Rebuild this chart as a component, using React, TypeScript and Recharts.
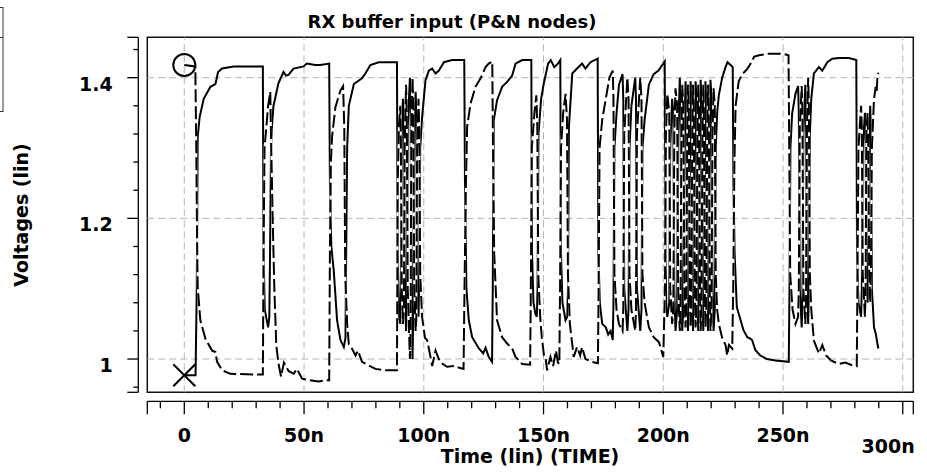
import { LineChart, Line, XAxis, YAxis, ReferenceLine, ReferenceArea } from "recharts"

// P node (solid): [time ns, volts]
const pNode: [number, number][] = [
  [0, 0.977], [4.7, 0.977], [5.2, 1.10], [5.6, 1.316], [6.4, 1.344], [8.1, 1.370], [10.9, 1.387], [13.0, 1.391],
  [14.1, 1.408], [15.8, 1.413], [20.6, 1.416], [32.8, 1.416], [33.1, 1.15], [33.6, 1.07], [35.0, 1.045], [35.5, 1.06],
  [35.8, 1.15], [36.2, 1.30], [36.5, 1.326], [37.2, 1.359], [39.3, 1.392], [41.4, 1.408], [42.5, 1.403], [43.5, 1.404],
  [45.6, 1.413], [49.8, 1.416], [51.1, 1.420], [54.7, 1.418], [56.7, 1.418], [60.5, 1.420], [60.8, 1.25], [61.4, 1.16],
  [62.4, 1.126], [63.8, 1.055], [65.2, 1.027], [66.6, 1.017], [67.3, 1.03], [67.6, 1.15], [68.0, 1.30], [68.7, 1.36],
  [70.8, 1.391], [74.2, 1.399], [75.6, 1.406], [77.7, 1.418], [81.2, 1.422], [88.8, 1.422], [89.1, 1.15], [89.6, 1.06],
  [90.2, 1.05], [90.4, 1.10], [90.8, 1.32], [91.3, 1.37], [91.7, 1.35], [92.0, 1.12], [92.6, 1.04], [92.9, 1.10],
  [93.3, 1.33], [94.2, 1.40], [94.5, 1.36], [94.8, 1.10], [95.3, 1.00], [95.6, 1.06], [96.0, 1.32], [96.6, 1.38],
  [96.9, 1.35], [97.2, 1.12], [97.8, 1.06], [98.1, 1.12], [98.5, 1.30], [99.3, 1.344], [100.7, 1.396], [102.1, 1.410],
  [103.5, 1.413], [104.9, 1.406], [106.3, 1.410], [108.4, 1.422], [111.8, 1.425], [116.9, 1.425], [117.2, 1.25], [117.8, 1.10],
  [118.8, 1.055], [120.2, 1.031], [123.0, 1.015], [124.8, 1.008], [125.8, 1.016], [127.1, 1.003], [128.5, 0.996], [128.8, 1.10],
  [129.2, 1.339], [130.6, 1.368], [132.7, 1.387], [134.8, 1.394], [136.9, 1.403], [138.3, 1.420], [141.1, 1.425], [144.9, 1.425],
  [145.2, 1.15], [145.8, 1.08], [146.6, 1.064], [147.2, 1.06], [147.5, 1.10], [147.9, 1.32], [149.0, 1.37], [150.0, 1.39],
  [151.9, 1.42], [153.0, 1.425], [154.5, 1.415], [156.0, 1.42], [157.0, 1.425], [157.3, 1.15], [157.9, 1.08], [159.2, 1.055],
  [159.9, 1.06], [160.2, 1.10], [160.6, 1.33], [162.0, 1.406], [164.0, 1.413], [166.1, 1.420], [167.5, 1.413], [169.6, 1.422],
  [172.6, 1.427], [172.9, 1.15], [173.5, 1.08], [174.5, 1.05], [176.0, 1.045], [177.0, 1.035], [178.0, 1.04], [178.9, 1.027],
  [179.2, 1.08], [179.6, 1.30], [180.5, 1.35], [181.5, 1.39], [183.0, 1.405], [183.3, 1.37], [183.7, 1.10], [185.0, 1.04],
  [185.5, 1.07], [185.9, 1.30], [186.7, 1.36], [188.3, 1.40], [188.6, 1.37], [189.0, 1.10], [190.4, 1.04], [190.9, 1.07],
  [191.3, 1.30], [192.2, 1.34], [194.0, 1.39], [196.0, 1.405], [198.0, 1.41], [200.6, 1.423], [200.9, 1.15], [201.3, 1.07],
  [201.7, 1.06], [202.5, 1.08], [202.9, 1.30], [203.7, 1.37], [204.2, 1.35], [204.6, 1.10], [205.1, 1.04], [205.8, 1.07],
  [206.2, 1.32], [206.9, 1.40], [207.2, 1.37], [207.6, 1.10], [207.9, 1.04], [208.4, 1.07], [208.8, 1.32], [209.3, 1.395],
  [209.6, 1.37], [210.0, 1.10], [210.3, 1.04], [210.65, 1.07], [211.05, 1.32], [211.4, 1.395], [211.7, 1.37], [212.1, 1.10],
  [212.4, 1.04], [212.75, 1.07], [213.15, 1.32], [213.5, 1.395], [213.85, 1.37], [214.25, 1.10], [214.6, 1.04], [214.9, 1.07],
  [215.3, 1.32], [215.6, 1.397], [215.95, 1.37], [216.35, 1.10], [216.7, 1.04], [216.95, 1.07], [217.35, 1.32], [217.6, 1.395],
  [217.95, 1.37], [218.35, 1.10], [218.7, 1.04], [219.0, 1.07], [219.4, 1.32], [219.7, 1.397], [220.15, 1.37], [220.55, 1.10],
  [221.0, 1.04], [221.5, 1.07], [221.9, 1.30], [222.5, 1.35], [223.2, 1.375], [224.6, 1.400], [226.0, 1.415], [226.8, 1.422],
  [228.1, 1.418], [229.0, 1.415], [229.3, 1.25], [229.8, 1.15], [230.7, 1.074], [233.5, 1.041], [235.1, 1.031], [236.3, 1.029],
  [237.1, 1.027], [238.4, 1.013], [240.5, 1.005], [243.3, 1.000], [246.8, 0.998], [252.4, 0.996], [252.7, 1.10], [253.1, 1.30],
  [253.8, 1.349], [255.2, 1.377], [256.3, 1.388], [256.6, 1.35], [257.0, 1.10], [257.8, 1.045], [258.1, 1.08], [258.5, 1.32],
  [259.3, 1.39], [259.6, 1.36], [260.0, 1.10], [260.5, 1.05], [260.8, 1.10], [261.2, 1.32], [261.8, 1.37], [262.9, 1.406],
  [265.0, 1.415], [266.4, 1.410], [268.5, 1.422], [270.6, 1.427], [273.3, 1.428], [277.5, 1.428], [280.6, 1.425], [280.9, 1.15],
  [281.5, 1.08], [282.6, 1.06], [282.9, 1.10], [283.3, 1.30], [284.2, 1.35], [284.5, 1.32], [284.8, 1.10], [285.3, 1.08],
  [285.6, 1.12], [286.0, 1.30], [286.4, 1.36], [286.7, 1.32], [287.1, 1.10], [288.0, 1.045], [288.8, 1.035], [289.4, 1.022],
  [289.8, 1.015],
]

// N node (dashed): [time ns, volts]
const nNode: [number, number][] = [
  [0, 1.418], [4.6, 1.416], [5.0, 1.30], [5.4, 1.15], [5.6, 1.102], [6.7, 1.055], [8.8, 1.029], [11.6, 1.012],
  [13.0, 1.010], [13.7, 0.996], [15.8, 0.984], [19.2, 0.979], [30.4, 0.978], [32.8, 0.978], [33.1, 1.15], [33.5, 1.30],
  [35.0, 1.36], [35.9, 1.380], [36.3, 1.30], [36.9, 1.20], [37.6, 1.10], [38.4, 1.02], [39.3, 0.994], [40.4, 0.975],
  [41.6, 0.995], [42.4, 0.990], [43.5, 0.983], [45.7, 0.979], [47.0, 0.986], [49.2, 0.972], [52.0, 0.970], [56.1, 0.968],
  [59.6, 0.970], [60.5, 0.970], [60.8, 1.15], [61.2, 1.28], [61.7, 1.316], [63.1, 1.358], [65.2, 1.382], [66.3, 1.388],
  [66.8, 1.33], [67.2, 1.12], [68.0, 1.05], [68.7, 1.021], [70.0, 1.015], [71.5, 1.005], [72.5, 1.012], [74.2, 0.996],
  [77.0, 0.991], [79.8, 0.986], [84.0, 0.984], [88.8, 0.984], [89.1, 1.25], [89.6, 1.33], [90.2, 1.36], [90.4, 1.32],
  [90.8, 1.10], [91.3, 1.05], [91.7, 1.07], [92.0, 1.30], [92.6, 1.39], [92.9, 1.35], [93.3, 1.10], [94.2, 1.00],
  [94.5, 1.04], [94.8, 1.32], [95.3, 1.40], [95.6, 1.36], [96.0, 1.10], [96.6, 1.04], [96.9, 1.06], [97.2, 1.30],
  [97.8, 1.37], [98.1, 1.33], [98.5, 1.12], [99.3, 1.06], [100.5, 1.03], [101.4, 1.027], [102.8, 1.003], [103.5, 0.99],
  [104.9, 1.012], [106.3, 1.000], [107.5, 0.994], [109.7, 0.989], [112.5, 0.990], [116.6, 0.986], [117.0, 1.10], [117.6, 1.25],
  [118.1, 1.33], [119.5, 1.363], [121.6, 1.387], [123.7, 1.399], [125.8, 1.415], [127.1, 1.420], [128.6, 1.423], [128.9, 1.30],
  [129.4, 1.15], [130.6, 1.055], [132.7, 1.031], [134.8, 1.022], [136.9, 1.015], [138.3, 1.003], [141.1, 0.993], [144.4, 0.992],
  [144.7, 1.10], [145.1, 1.30], [146.2, 1.35], [147.0, 1.375], [147.4, 1.33], [147.8, 1.12], [148.6, 1.06], [149.3, 1.03],
  [150.2, 1.005], [150.8, 1.003], [151.5, 0.984], [152.9, 1.003], [154.0, 0.99], [155.2, 1.012], [156.0, 0.995], [156.6, 0.993],
  [156.9, 1.10], [157.3, 1.30], [158.2, 1.35], [159.2, 1.377], [159.8, 1.34], [160.2, 1.12], [161.0, 1.05], [162.6, 1.003],
  [164.0, 1.017], [165.3, 1.005], [166.1, 1.017], [167.5, 1.0], [170.3, 0.996], [172.7, 0.994], [173.0, 1.10], [173.4, 1.30],
  [174.5, 1.34], [176.0, 1.37], [177.5, 1.40], [178.9, 1.41], [179.2, 1.37], [179.6, 1.12], [180.5, 1.07], [181.5, 1.05],
  [183.0, 1.04], [183.3, 1.07], [183.7, 1.32], [185.0, 1.40], [185.5, 1.37], [185.9, 1.12], [186.7, 1.07], [188.3, 1.04],
  [188.6, 1.07], [189.0, 1.32], [190.4, 1.40], [190.9, 1.37], [191.3, 1.12], [192.2, 1.08], [194.0, 1.045], [196.0, 1.031],
  [198.2, 1.024], [200.0, 1.003], [200.7, 1.10], [201.1, 1.32], [201.7, 1.377], [202.5, 1.35], [202.9, 1.10], [203.7, 1.05],
  [204.2, 1.07], [204.6, 1.32], [205.1, 1.385], [205.8, 1.36], [206.2, 1.10], [206.9, 1.04], [207.2, 1.07], [207.6, 1.32],
  [207.9, 1.39], [208.4, 1.36], [208.8, 1.10], [209.3, 1.045], [209.6, 1.07], [210.0, 1.32], [210.3, 1.39], [210.65, 1.36],
  [211.05, 1.10], [211.4, 1.045], [211.7, 1.07], [212.1, 1.32], [212.4, 1.39], [212.75, 1.36], [213.15, 1.10], [213.5, 1.045],
  [213.85, 1.07], [214.25, 1.32], [214.6, 1.39], [214.9, 1.36], [215.3, 1.10], [215.6, 1.04], [215.95, 1.07], [216.35, 1.32],
  [216.7, 1.39], [216.95, 1.36], [217.35, 1.10], [217.6, 1.045], [217.95, 1.07], [218.35, 1.32], [218.7, 1.39], [219.0, 1.36],
  [219.4, 1.10], [219.7, 1.04], [220.15, 1.07], [220.55, 1.32], [221.0, 1.385], [221.5, 1.36], [221.9, 1.12], [222.5, 1.07],
  [223.2, 1.05], [224.6, 1.03], [226.0, 1.02], [226.7, 1.005], [227.4, 1.02], [228.8, 1.015], [229.2, 1.10], [229.7, 1.28],
  [230.2, 1.36], [231.5, 1.395], [233.0, 1.405], [235.0, 1.412], [236.5, 1.42], [238.0, 1.43], [240.0, 1.432], [244.0, 1.434],
  [250.0, 1.434], [252.3, 1.432], [252.6, 1.30], [253.0, 1.12], [254.0, 1.07], [255.2, 1.05], [256.3, 1.06], [256.6, 1.10],
  [257.0, 1.33], [257.8, 1.388], [258.1, 1.35], [258.5, 1.10], [259.3, 1.05], [259.6, 1.08], [260.0, 1.33], [260.5, 1.40],
  [260.8, 1.36], [261.2, 1.12], [261.8, 1.07], [262.9, 1.026], [265.0, 1.008], [266.4, 1.02], [268.0, 1.005], [270.0, 0.998],
  [273.3, 0.993], [276.0, 0.995], [279.0, 0.991], [280.8, 0.99], [281.1, 1.12], [281.5, 1.30], [282.6, 1.36], [282.9, 1.33],
  [283.3, 1.12], [284.2, 1.06], [284.5, 1.10], [284.8, 1.32], [285.3, 1.35], [285.6, 1.30], [286.0, 1.12], [286.4, 1.08],
  [286.7, 1.12], [287.1, 1.30], [288.0, 1.37], [288.7, 1.387], [289.1, 1.38], [289.4, 1.40], [289.8, 1.407],
]

const xDomain = [-15.45, 304.4]
const yDomain = [0.9527, 1.4574]
const xTicks = [
  -15.45, -10, 0, 10, 20, 30, 40, 50, 60, 70, 80, 90, 100, 110, 120, 130, 140, 150, 160, 170, 180, 190, 200, 210, 220, 230,
  240, 250, 260, 270, 280, 290, 300, 304.4,
]
const xMajor = [0, 50, 100, 150, 200, 250, 300]
const xLabels = ["0", "50n", "100n", "150n", "200n", "250n", "300n"]
const yTicks = [0.9527, 0.96, 1, 1.04, 1.08, 1.12, 1.16, 1.2, 1.24, 1.28, 1.32, 1.36, 1.4, 1.44, 1.4574]
const yMajor = [1, 1.2, 1.4]
const yLabels = ["1", "1.2", "1.4"]
const xGrid = [0, 50, 100, 150, 200, 250, 300]
const yGrid = [1, 1.2, 1.4]

const pData = pNode.map(([t, v]) => ({ t, v }))
const nData = nNode.map(([t, v]) => ({ t, v }))

const FONT = '"DejaVu Sans", sans-serif'
const GRID = "#b4b4b4"

function XTick({ x, y, payload }: any) {
  const v = payload.value
  const i = xMajor.indexOf(v)
  const isEnd = v === xDomain[0] || v === xDomain[1]
  const len = i >= 0 || isEnd ? 13 : 7
  const y0 = y + 9
  const last = i === xMajor.length - 1
  return (
    <g>
      <line x1={x} x2={x} y1={y0} y2={y0 + len} stroke="#000" strokeWidth={1.3} />
      {i >= 0 && (
        <text
          x={last ? x + 12 : x}
          y={last ? y0 + 52 : y0 + 41}
          textAnchor={last ? "end" : "middle"}
          fontFamily={FONT}
          fontWeight="bold"
          fontSize={19}
          fill="#000"
        >
          {xLabels[i]}
        </text>
      )}
    </g>
  )
}

function YTick({ x, y, payload }: any) {
  const v = payload.value
  const i = yMajor.indexOf(v)
  const isEnd = v === yDomain[0] || v === yDomain[1]
  const len = i >= 0 || isEnd ? 11 : 5
  const x0 = x - 9
  return (
    <g>
      <line x1={x0} x2={x0 - len} y1={y} y2={y} stroke="#000" strokeWidth={1.3} />
      {i >= 0 && (
        <text x={x0 - 25.6} y={y + 13} textAnchor="end" fontFamily={FONT} fontWeight="bold" fontSize={19} fill="#000">
          {yLabels[i]}
        </text>
      )}
    </g>
  )
}

const crossDot = (props: any) => {
  const { cx, cy, index } = props
  if (index !== 0) return <g key={`px${index}`} />
  return (
    <g key="px0">
      <line x1={cx - 11} y1={cy - 11} x2={cx + 11} y2={cy + 11} stroke="#000" strokeWidth={2} />
      <line x1={cx - 11} y1={cy + 11} x2={cx + 11} y2={cy - 11} stroke="#000" strokeWidth={2} />
    </g>
  )
}

const circleDot = (props: any) => {
  const { cx, cy, index } = props
  if (index !== 0) return <g key={`nc${index}`} />
  return <circle key="nc0" cx={cx} cy={cy} r={11} fill="none" stroke="#000" strokeWidth={2} />
}

export default function App() {
  return (
    <div style={{ position: "absolute", left: 0, top: 0, width: 927, height: 475, background: "#fff", overflow: "hidden" }}>
      <LineChart width={927} height={475} margin={{ top: 37.3, right: 13.7, bottom: 2.7, left: 87.3 }}>
        <XAxis
          type="number"
          dataKey="t"
          domain={xDomain}
          ticks={xTicks}
          interval={0}
          height={80}
          tickSize={0}
          tickMargin={0}
          tick={<XTick />}
          tickLine={false}
          axisLine={{ stroke: "#000", strokeWidth: 1.3, transform: "translate(0,9)" }}
          allowDataOverflow
        />
        <YAxis
          type="number"
          domain={yDomain}
          ticks={yTicks}
          interval={0}
          width={60}
          tickSize={0}
          tickMargin={0}
          tick={<YTick />}
          tickLine={false}
          axisLine={{ stroke: "#000", strokeWidth: 1.3, transform: "translate(-9,0)" }}
          allowDataOverflow
        />
        {xGrid.map((g) => (
          <ReferenceLine key={`gx${g}`} x={g} stroke={GRID} strokeDasharray="7 4" strokeWidth={1} />
        ))}
        {yGrid.map((g) => (
          <ReferenceLine key={`gy${g}`} y={g} stroke={GRID} strokeDasharray="7 4" strokeWidth={1} />
        ))}
        <Line
          data={pData}
          dataKey="v"
          type="linear"
          stroke="#000"
          strokeWidth={2}
          dot={crossDot}
          activeDot={false}
          isAnimationActive={false}
        />
        <Line
          data={nData}
          dataKey="v"
          type="linear"
          stroke="#fff"
          strokeWidth={2}
          dot={false}
          activeDot={false}
          isAnimationActive={false}
        />
        <Line
          data={nData}
          dataKey="v"
          type="linear"
          stroke="#000"
          strokeWidth={2}
          strokeDasharray="13 4"
          dot={circleDot}
          activeDot={false}
          isAnimationActive={false}
        />
        <ReferenceArea
          x1={xDomain[0]}
          x2={xDomain[1]}
          y1={yDomain[0]}
          y2={yDomain[1]}
          fill="none"
          fillOpacity={0}
          stroke="#111"
          strokeWidth={1.5}
        />
      </LineChart>
      <svg width={927} height={475} style={{ position: "absolute", left: 0, top: 0, pointerEvents: "none" }}>
        <rect x={-20} y={7.5} width={23} height={104} fill="none" stroke="#333" strokeWidth={1} />
        <line x1={0} x2={3} y1={37.5} y2={37.5} stroke="#333" strokeWidth={1} />
        <text x={452} y={28} textAnchor="middle" fontFamily={FONT} fontWeight="bold" fontSize={18} fill="#000">
          RX buffer input (P&amp;N nodes)
        </text>
        <text x={530} y={463} textAnchor="middle" fontFamily={FONT} fontWeight="bold" fontSize={19} fill="#000">
          Time (lin) (TIME)
        </text>
        <text
          x={28}
          y={215}
          transform="rotate(-90 28 215)"
          textAnchor="middle"
          fontFamily={FONT}
          fontWeight="bold"
          fontSize={19}
          fill="#000"
        >
          Voltages (lin)
        </text>
      </svg>
    </div>
  )
}
